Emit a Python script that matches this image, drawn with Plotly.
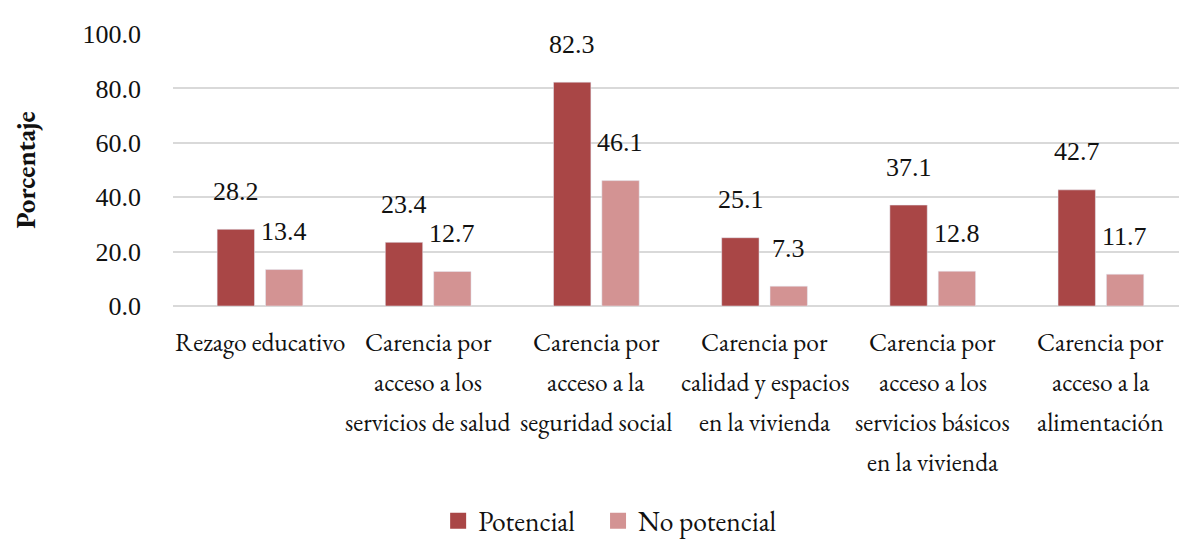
import plotly.graph_objects as go

categories = [
    "Rezago educativo",
    "Carencia por<br>acceso a los<br>servicios de salud",
    "Carencia por<br>acceso a la<br>seguridad social",
    "Carencia por<br>calidad y espacios<br>en la vivienda",
    "Carencia por<br>acceso a los<br>servicios básicos<br>en la vivienda",
    "Carencia por<br>acceso a la<br>alimentación",
]
cat_keys = ["c%d" % i for i in range(len(categories))]
potencial = [28.2, 23.4, 82.3, 25.1, 37.1, 42.7]
no_potencial = [13.4, 12.7, 46.1, 7.3, 12.8, 11.7]
yticks = [0, 20, 40, 60, 80, 100]

GARA = "'EB Garamond', 'Liberation Serif', serif"
TIMES = "'Liberation Serif', 'Times New Roman', serif"
C_DARK = "#A94646"
C_LIGHT = "#D39393"

fig = go.Figure()
fig.add_trace(go.Bar(x=cat_keys, y=potencial, name="Potencial", marker_color=C_DARK, showlegend=False))
fig.add_trace(go.Bar(x=cat_keys, y=no_potencial, name="No potencial", marker_color=C_LIGHT, showlegend=False))
# legend entries with larger square swatches
fig.add_trace(go.Scatter(x=[None], y=[None], mode="markers", name="Potencial", legend="legend",
                         marker=dict(symbol="square", size=20, color=C_DARK)))
fig.add_trace(go.Scatter(x=[None], y=[None], mode="markers", name="No potencial", legend="legend2",
                         marker=dict(symbol="square", size=20, color=C_LIGHT)))

annotations = []
for key, v1, v2 in zip(cat_keys, potencial, no_potencial):
    annotations.append(dict(x=key, y=v1, xref="x", yref="y", text=f"{v1:.1f}", showarrow=False,
                            xshift=-24, yshift=38, yanchor="middle",
                            font=dict(family=TIMES, size=26, color="#111")))
    annotations.append(dict(x=key, y=v2, xref="x", yref="y", text=f"{v2:.1f}", showarrow=False,
                            xshift=24, yshift=38, yanchor="middle",
                            font=dict(family=TIMES, size=26, color="#111")))
for key, label in zip(cat_keys, categories):
    for i, line in enumerate(label.split("<br>")):
        annotations.append(dict(x=key, y=0, xref="x", yref="y", text=line, showarrow=False,
                                yshift=-36 - 40 * i, yanchor="middle",
                                font=dict(family=GARA, size=25.5, color="#111")))

legend_common = dict(orientation="h", xanchor="left", y=-0.79, yanchor="middle",
                     font=dict(family=GARA, size=27.5), itemwidth=30, bgcolor="rgba(0,0,0,0)")

fig.update_layout(
    width=1179, height=534,
    margin=dict(l=165, r=2, t=26, b=236, autoexpand=False),
    paper_bgcolor="white", plot_bgcolor="white",
    barmode="group", bargap=0.425, bargroupgap=0.227,
    font=dict(family=GARA, size=25, color="#111"),
    annotations=annotations,
    legend=dict(x=0.262, **legend_common),
    legend2=dict(x=0.42, **legend_common),
    xaxis=dict(showticklabels=False, showgrid=False, showline=False, ticks="", automargin=False),
    yaxis=dict(range=[0, 100], tickvals=yticks, tickformat=".1f", showgrid=True, automargin=False,
               gridcolor="#D9D9D9", gridwidth=1.5, zeroline=True, zerolinecolor="#D9D9D9",
               zerolinewidth=1.5, showline=False, ticks="", ticklabelstandoff=31,
               tickfont=dict(family=TIMES, size=26),
               title=dict(text="<b>Porcentaje</b>", font=dict(family=GARA, size=27), standoff=68)),
)

fig.write_html("out.html")
